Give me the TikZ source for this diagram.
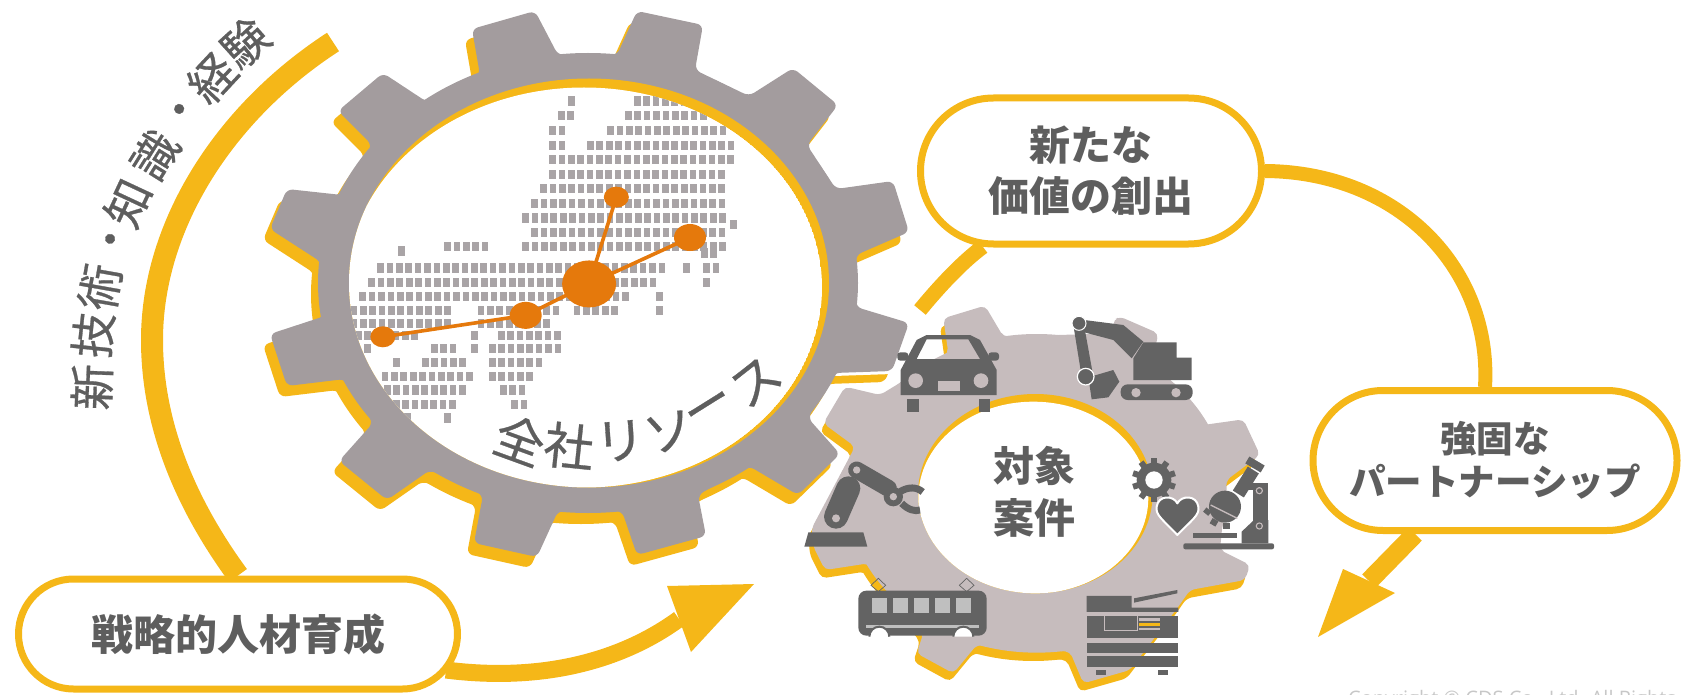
\documentclass[tikz,border=0pt]{standalone}
\usepackage{fontspec}
\usetikzlibrary{shapes.misc}
\newfontfamily\jp{Noto Sans CJK JP}
\newfontfamily\jpm[FakeBold=0.6]{Noto Sans CJK JP}
\newfontfamily\lat{Open Sans}
\definecolor{ylw}{HTML}{F5B718}
\definecolor{biggray}{HTML}{A39C9E}
\definecolor{smallgray}{HTML}{C6BCBD}
\definecolor{dark}{HTML}{636363}
\definecolor{txt}{HTML}{5E5E5E}
\definecolor{org}{HTML}{E5790C}
\definecolor{dot}{HTML}{A9A4A6}
\pgfdeclarelayer{back}
\pgfsetlayers{back,main}
\tikzset{
  bubble/.style={shape=rounded rectangle,draw=ylw,fill=white,line width=7pt,align=center,text=txt,inner sep=0pt},
  band/.style={draw=ylw,line cap=butt},
  ztwo/.style={shift={(780,290)},x=.33333pt,y=-.33333pt},
  zone/.style={shift={(240,0)},x=.44643pt,y=-.35714pt},
  arcch/.style={text=txt,font=\jpm\fontsize{46}{46}\selectfont,inner sep=0pt},
  resch/.style={text=txt,font=\jpm\fontsize{50}{50}\selectfont,inner sep=0pt},
  icon/.style={fill=dark,draw=none},
  net/.style={draw=org,line width=3.6pt},
}
\newcommand{\biggearpoly}{(480,75)--(472,29)--(535,11)--(558,55)--(617,55)--(637,11)--(703,25)--(695,70)--(749,96)--(793,68)--(838,105)--(807,145)--(836,189)--(893,181)--(909,232)--(856,255)--(856,307)--(909,323)--(892,371)--(834,373)--(808,418)--(840,454)--(798,495)--(749,466)--(698,495)--(706,536)--(637,555)--(622,511)--(558,511)--(537,557)--(474,543)--(483,495)--(430,470)--(387,500)--(339,461)--(373,423)--(345,379)--(287,386)--(270,334)--(325,316)--(321,262)--(270,229)--(287,189)--(342,195)--(372,145)--(338,111)--(383,73)--(427,102)--cycle}
\newcommand{\smallgearpoly}{(505,190)--(490,85)--(615,47)--(670,140)--(1000,130)--(1000,90)--(1020,80)--(1135,130)--(1120,200)--(1270,405)--(1390,388)--(1440,495)--(1340,570)--(1320,780)--(1410,825)--(1395,870)--(1230,900)--(1195,950)--(1050,1140)--(910,1180)--(870,1085)--(590,1065)--(520,1150)--(410,1090)--(430,1030)--(265,820)--(135,840)--(100,770)--(95,715)--(225,470)--(130,400)--(195,290)--(300,315)--cycle}
\begin{document}
\begin{tikzpicture}[x=1pt,y=-1pt]
\useasboundingbox (0,0) rectangle (1681,695);
% bubbles
\node[bubble,minimum width=341pt,minimum height=146pt,font=\jp\bfseries\fontsize{41}{51}\selectfont] (b1) at (1091,171) {新たな\\価値の創出};
\node[bubble,minimum width=364pt,minimum height=140pt,font=\jp\bfseries\fontsize{36.5}{43}\selectfont] (b2) at (1495,460.5) {強固な\\パートナーシップ};
\node[bubble,minimum width=439pt,minimum height=110pt,font=\jp\bfseries\fontsize{42}{42}\selectfont] (b3) at (238,634) {戦略的人材育成};
% arc text
\node[arcch,rotate=88] (a1) at (92,387) {新};
\node[arcch,rotate=84] (a2) at (93,335) {技};
\node[arcch,rotate=80] (a3) at (100,287) {術};
\node[arcch,rotate=70] (a4) at (116,241) {・};
\node[arcch,rotate=65] (a5) at (128,203) {知};
\node[arcch,rotate=58] (a6) at (155,155) {識};
\node[arcch,rotate=50] (a7) at (184,113) {・};
\node[arcch,rotate=47] (a8) at (212,78) {経};
\node[arcch,rotate=42] (a9) at (245,43) {験};
\begin{pgfonlayer}{back}
% connectors
\coordinate (leftfree) at (333,42);
\draw[band,line width=22pt] (leftfree) .. controls (225,112) and (152,225) .. (152,340) .. controls (152,430) and (190,510) .. (b3.north);
\coordinate (h1tip) at (754,584);
\coordinate (h1a) at (667,586);
\coordinate (h1b) at (691,652);
\coordinate (h1m) at (679,619);
\draw[band,line width=17pt] ([shift={(-15pt,-36pt)}]b3.east) .. controls (540,682) and (620,662) .. (h1m);
\fill[ylw] (h1tip)--(h1a)--(h1b)--cycle;
\draw[band,line width=14pt] (b1.east) .. controls (1400,172) and (1492,270) .. ([xshift=-10pt]b2.north);
\coordinate (h2tip) at (1318,637);
\coordinate (h2a) at (1343,569);
\coordinate (h2b) at (1395,593);
\coordinate (h2m) at (1369,581);
\draw[band,line width=19pt] ([xshift=-80pt]b2.south) -- (h2m);
\fill[ylw] (h2tip)--(h2a)--(h2b)--cycle;
\coordinate (gearfree) at (920,310);
\draw[band,line width=15pt] (gearfree) .. controls (938,288) and (962,262) .. (b1.215);
% small gear
\begin{scope}[ztwo]
 \fill[ylw,shift={(-10,25)},rounded corners=5pt] \smallgearpoly;
 \fill[ylw,shift={(-10,25)}] (770,610) ellipse [x radius=570,y radius=478];
 \fill[smallgray,rounded corners=5pt] \smallgearpoly;
 \fill[smallgray] (770,610) ellipse [x radius=570,y radius=478];
 \fill[ylw] (766,611) ellipse [x radius=352,y radius=299];
 \begin{scope}
  \clip (766,611) ellipse [x radius=352,y radius=299];
  \fill[white] (760,623) ellipse [x radius=345,y radius=288];
 \end{scope}
\end{scope}
% big gear
\begin{scope}[shift={(-7,11)}]
 \draw[white,line width=9pt,line join=round] \biggearpoly;
 \fill[ylw,rounded corners=6pt] \biggearpoly;
 \fill[ylw] (588,283) ellipse [x radius=270,y radius=230];
\end{scope}
\draw[white,line width=6pt,line join=round] (856,307)--(909,323)--(892,371)--(834,373);
\fill[biggray,rounded corners=6pt] \biggearpoly;
\fill[biggray] (588,283) ellipse [x radius=270,y radius=230];
\fill[ylw] (589,283) ellipse [x radius=240,y radius=204.5];
\begin{scope}
 \clip (589,283) ellipse [x radius=240,y radius=204.5];
 \clip (584,287.5) ellipse [x radius=238,y radius=200];
 \fill[white] (584,287.5) ellipse [x radius=238,y radius=200];
 \begin{scope}[zone]
  \foreach \yy/\xa/\xb in {283/743/743,283/890/1010,323/720/741,323/870/1040,365/700/721,365/830/1090,408/700/721,408/785/1105,
    447/700/1105,488/700/1085,528/680/1085,570/660/1085,610/640/1085,628/1105/1105,650/660/1085,690/465/565,690/640/1085,
    703/362/362,708/1040/1061,750/315/965,750/1000/1000,750/1045/1066,790/295/940,790/1045/1045,830/275/880,830/940/940,
    870/255/465,870/540/720,870/755/855,870/940/940,905/255/465,905/540/700,940/265/395,940/525/525,940/585/730,
    975/285/285,975/435/490,975/525/525,975/565/730,1015/350/350,1015/415/510,1015/565/690,1055/325/515,1055/565/665,
    1092/330/515,1092/590/645,1132/350/495,1132/615/645,1170/375/375,1170/465/465}{
    \pgfmathtruncatemacro\nn{(\xb-\xa)/21}
    \foreach \k in {0,...,\nn}{
      \pgfmathsetmacro\xx{\xa+21*\k}
      \fill[dot] (\xx-7.5,\yy-13) rectangle (\xx+7.5,\yy+13);
    }
  }
 \end{scope}
\end{scope}
\end{pgfonlayer}
% network
\begin{scope}[zone]
 \coordinate (nA) at (782,795);
 \coordinate (nB) at (640,883);
 \coordinate (nC) at (320,943);
 \coordinate (nD) at (843,552);
 \coordinate (nE) at (1008,665);
\end{scope}
\draw[net] (nC)--(nB)--(nA)--(nD);
\draw[net] (nA)--(nE);
\fill[org] (nA) ellipse [x radius=27,y radius=23.5];
\fill[org] (nB) ellipse [x radius=16,y radius=13.5];
\fill[org] (nC) ellipse [x radius=12.5,y radius=10.5];
\fill[org] (nD) ellipse [x radius=12.5,y radius=10.5];
\fill[org] (nE) ellipse [x radius=16,y radius=13.5];
% resource text
\node[resch,rotate=-20] (r1) at (520,440) {全};
\node[resch,rotate=-6] (r2) at (569,446) {社};
\node[resch,rotate=4] (r3) at (620,441) {リ};
\node[resch,rotate=12] (r4) at (669,432) {ソ};
\node[resch,rotate=32] (r5) at (711,411) {ー};
\node[resch,rotate=38] (r6) at (756,382) {ス};
% centre text
\node[text=txt,align=center,inner sep=0pt,font=\jp\bfseries\fontsize{41}{52}\selectfont] (c1) at (1034,492) {対象\\案件};
% icons
\begin{scope}[ztwo]
 % car
 \fill[icon,even odd rule] (362,240)--(410,150)--(440,135)--(570,135)--(600,150)--(650,240)--(650,315)--(362,315)--cycle
   (410,207)--(440,148)--(565,148)--(600,207)--cycle;
 \fill[smallgray] (407,272) circle[radius=22];
 \fill[smallgray] (603,272) circle[radius=22];
 \fill[smallgray] (473,272) rectangle (540,302);
 \fill[icon] (382,328) rectangle (416,365);
 \fill[icon] (597,328) rectangle (630,365);
 \fill[icon,rounded corners=3pt] (352,187) rectangle (385,212);
 \fill[icon,rounded corners=3pt] (625,187) rectangle (657,212);
 % excavator
 \fill[icon] (880,105)--(912,105)--(940,260)--(905,260)--cycle;
 \fill[icon] (897,88)--(1030,105)--(1090,155)--(1055,205)--(1000,150)--(905,125)--cycle;
 \fill[icon] (1090,157)--(1190,157)--(1190,203)--(1235,203)--(1235,270)--(1060,270)--(1060,205)--cycle;
 \fill[icon,rounded corners=7pt] (1022,283) rectangle (1238,330);
 \fill[smallgray] (1068,308) circle[radius=14];
 \fill[smallgray] (1188,308) circle[radius=14];
 \fill[icon] (925,262)--(1000,240)--(1018,275)--(985,322)--(935,328)--cycle;
 \draw[icon,draw=white,line width=1pt] (897,100) circle[radius=21];
 \draw[icon,draw=white,line width=1.2pt] (917,260) circle[radius=25];
 % robot arm
 \fill[icon] (85,727)--(250,727)--(262,770)--(73,770)--cycle;
 \draw[dark,line width=24pt,line cap=round] (168,680)--(205,595);
 \fill[smallgray] (168,685) circle[radius=12];
 \draw[dark,line width=17pt,line cap=round] (230,540)--(325,595);
 \fill[smallgray] (230,540) circle[radius=11];
 \fill[icon] (340,620) circle[radius=29];
 \fill[smallgray] (340,620) circle[radius=11];
 \draw[dark,line width=7pt] (360,605) .. controls (385,590) and (410,590) .. (428,606);
 \draw[dark,line width=7pt] (365,640) .. controls (385,660) and (405,665) .. (420,660);
 % small cog
 \foreach \a in {0,36,...,324}{
  \fill[icon,shift={(1122,570)},rotate=\a] (-9,-66) rectangle (9,-45);
 }
 \fill[icon] (1122,570) circle[radius=52];
 \fill[white] (1122,570) circle[radius=26];
 % heart
 \draw[fill=dark,draw=white,line width=2pt,line join=round] (1192,735) .. controls (1150,690) and (1125,675) .. (1130,650) .. controls (1135,615) and (1180,615) .. (1192,640) .. controls (1205,615) and (1250,615) .. (1255,650) .. controls (1260,675) and (1235,690) .. (1192,735) -- cycle;
 % microscope
 \fill[icon,rounded corners=2pt] (1210,760) rectangle (1482,778);
 \fill[icon] (1240,730) rectangle (1372,745);
 \fill[icon] (1385,760)--(1385,725)--(1422,690)--(1465,690)--(1465,760)--cycle;
 \fill[icon] (1420,590)--(1465,590)--(1465,700)--(1420,700)--cycle;
 \fill[icon] (1395,578)--(1465,578)--(1465,600)--(1395,600)--cycle;
 \fill[smallgray] (1438,602) circle[radius=11];
 \fill[dark] (1438,602) circle[radius=7];
 \fill[smallgray] (1438,708) circle[radius=11];
 \fill[dark] (1438,708) circle[radius=7];
 \draw[dark,line width=13pt] (1375,612)--(1420,540);
 \draw[dark,line width=8pt] (1402,510)--(1448,537);
 \fill[icon] (1335,650) circle[radius=48];
 \draw[smallgray,line width=1.3pt] (1292,645)--(1372,685);
 \fill[icon,rotate around={-40:(1282,665)}] (1272,657) rectangle (1292,673);
 \fill[icon,rotate around={-30:(1302,697)}] (1292,688) rectangle (1312,706);
 \fill[icon] (1330,700) rectangle (1350,718);
 % train
 \fill[icon,rounded corners=8pt] (235,902) rectangle (620,1037);
 \foreach \x in {277,340,403,466,529}{\fill[lightgray] (\x,925) rectangle ++(43,43);}
 \fill[lightgray] (258,1005) rectangle (597,1015);
 \draw[dark,line width=2pt,fill=white] (268,1040) arc[start angle=180,end angle=360,radius=30];
 \draw[dark,line width=2pt,fill=white] (520,1040) arc[start angle=180,end angle=360,radius=30];
 \draw[dark,line width=.7pt] (295,865)--(317,886)--(295,905)--(273,886)--cycle;
 \draw[dark,line width=.7pt] (560,865)--(582,886)--(560,905)--(538,886)--cycle;
 % copier
 \fill[icon] (920,918)--(1055,918)--(1055,953)--(1195,953)--(1195,966)--(920,966)--cycle;
 \fill[icon] (1062,925)--(1192,900)--(1192,910)--(1062,938)--cycle;
 \fill[icon] (920,978) rectangle (1195,1045);
 \draw[smallgray,line width=1pt] (972,978) rectangle (1072,1022);
 \fill[smallgray] (1078,985) rectangle (1140,992);
 \fill[ylw] (1078,1000) rectangle (1140,1007);
 \fill[smallgray] (1078,1013) rectangle (1140,1020);
 \fill[icon] (920,1058) rectangle (1195,1088);
 \fill[icon] (920,1098) rectangle (1195,1130);
 \fill[icon] (948,1140) rectangle (978,1155);
 \fill[icon] (1135,1140) rectangle (1165,1155);
\end{scope}
% copyright
\node[anchor=base west,inner sep=0pt,text=black!22,font=\lat\fontsize{20}{20}\selectfont] (copy) at (1348,705) {Copyright © CDS Co., Ltd.  All Rights};
\end{tikzpicture}
\end{document}
